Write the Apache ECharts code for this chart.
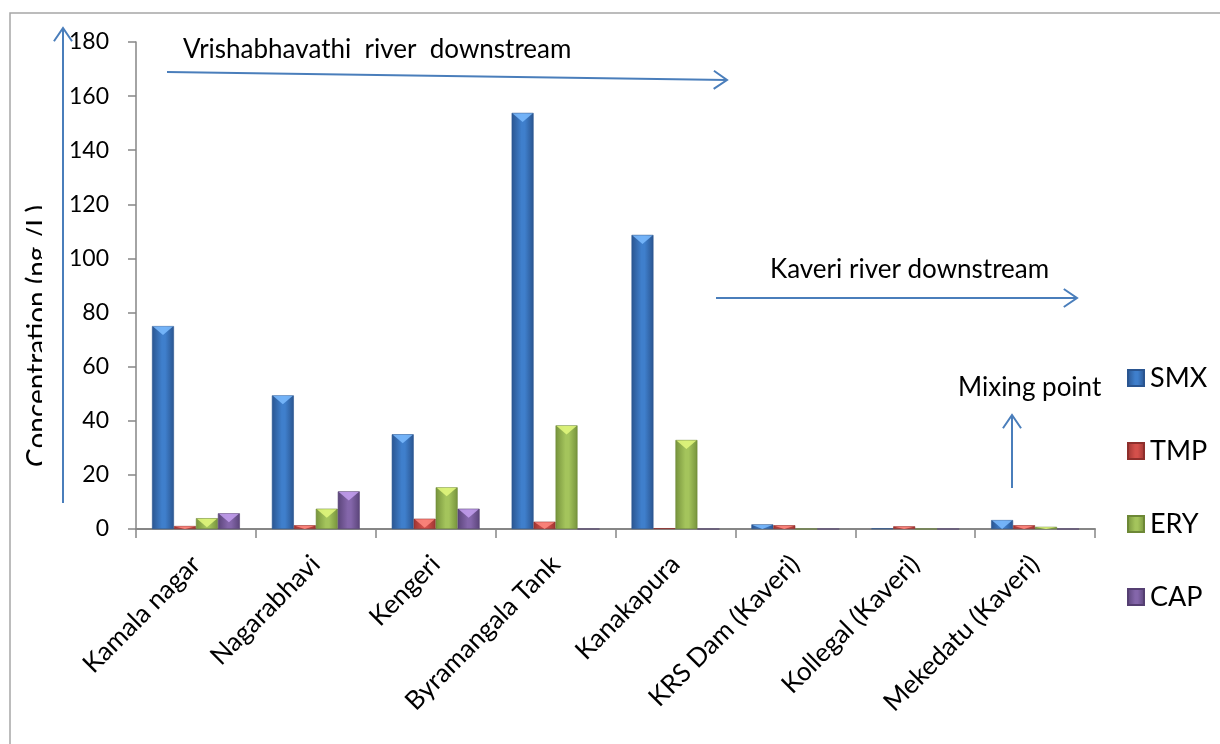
<!DOCTYPE html>
<html>
<head>
<meta charset="utf-8">
<title>Antibiotic concentrations along the Vrishabhavathi and Kaveri rivers</title>
<script src="https://cdn.jsdelivr.net/npm/echarts@6/dist/echarts.min.js"></script>
<style>
  html, body { margin: 0; padding: 0; background: #fff; }
  #chart { width: 1220px; height: 744px; }
</style>
</head>
<body>
<div id="chart"></div>
<script>
// Sampling sites, upstream to downstream
const categories = [
  'Kamala nagar', 'Nagarabhavi', 'Kengeri', 'Byramangala Tank',
  'Kanakapura', 'KRS Dam (Kaveri)', 'Kollegal (Kaveri)', 'Mekedatu (Kaveri)'
];
// Concentrations (ng/L)
const smx = [75, 49.4, 35, 153.8, 108.7, 1.7, 0.2, 3.3];
const tmp = [1.1, 1.4, 3.8, 2.7, 0.3, 1.4, 1.0, 1.4];
const ery = [4.0, 7.5, 15.4, 38.3, 32.9, 0, 0, 0.8];
const cap = [5.8, 13.9, 7.5, 0, 0, 0, 0, 0];

const yTicks = { min: 0, max: 180, interval: 20 };

const FONT = 'Lato, "Open Sans", sans-serif';
const ARROW = '#4a7ebb';
const GAP = 0.267;

const palette = [
  { name: 'SMX', data: smx, edge: '#2a5590', mid: '#3f7fcc', hi: '#7cbcff', border: '#2a5590' },
  { name: 'TMP', data: tmp, edge: '#9c3532', mid: '#d4504b', hi: '#ff8a80', border: '#8e2f2c' },
  { name: 'ERY', data: ery, edge: '#76933c', mid: '#a4c45c', hi: '#e4f97e', border: '#6d8836' },
  { name: 'CAP', data: cap, edge: '#5a4479', mid: '#8466aa', hi: '#c4a0f0', border: '#553f72' }
];

function barGradient(p) {
  return new echarts.graphic.LinearGradient(0, 0, 1, 0, [
    { offset: 0, color: p.edge },
    { offset: 0.45, color: p.mid },
    { offset: 0.6, color: p.mid },
    { offset: 1, color: p.edge }
  ]);
}

const series = [];
palette.forEach(function (p) {
  series.push({
    name: p.name,
    type: 'bar',
    data: p.data,
    barGap: '0%',
    barCategoryGap: (GAP * 100) + '%',
    itemStyle: { color: barGradient(p), borderColor: p.border, borderWidth: 0.6 },
    emphasis: { disabled: true }
  });
});
// Bevelled caps on top of each bar
palette.forEach(function (p, s) {
  series.push({
    name: p.name,
    type: 'custom',
    silent: true,
    z: 5,
    data: p.data.map(function (v, i) { return [i, v]; }),
    renderItem: function (params, api) {
      const idx = api.value(0);
      const val = api.value(1);
      const top = api.coord([idx, val]);
      const base = api.coord([idx, 0]);
      const catW = api.size([1, 0])[0];
      const used = catW * (1 - GAP);
      const bw = used / palette.length;
      const x = top[0] - used / 2 + s * bw;
      const h = Math.min(9, base[1] - top[1]);
      if (h < 2) return null;
      return {
        type: 'polygon',
        shape: { points: [[x + 1, top[1] + 0.5], [x + bw - 1, top[1] + 0.5], [x + bw / 2, top[1] + h]] },
        style: { fill: p.hi, opacity: 0.85 }
      };
    }
  });
});

function arrow(x1, y1, x2, y2, head) {
  const ang = Math.atan2(y2 - y1, x2 - x1);
  const a1 = ang + Math.PI - 0.6, a2 = ang + Math.PI + 0.6;
  return [
    { type: 'line', z: 20, shape: { x1: x1, y1: y1, x2: x2, y2: y2 },
      style: { stroke: ARROW, lineWidth: 2 } },
    { type: 'polyline', z: 20, shape: { points: [
        [x2 + head * Math.cos(a1), y2 + head * Math.sin(a1)],
        [x2, y2],
        [x2 + head * Math.cos(a2), y2 + head * Math.sin(a2)]
      ] }, style: { stroke: ARROW, lineWidth: 2, fill: null } }
  ];
}

const chart = echarts.init(document.getElementById('chart'), null, { renderer: 'canvas' });
chart.setOption({
  animation: false,
  backgroundColor: '#fff',
  grid: { left: 136, right: 125, top: 42, bottom: 215, containLabel: false },
  legend: {
    orient: 'vertical',
    left: 1122,
    top: 359,
    itemWidth: 16,
    itemHeight: 16,
    itemGap: 45,
    icon: 'rect',
    data: palette.map(function (p) { return p.name; }),
    textStyle: { fontFamily: FONT, fontSize: 27, lineHeight: 28, color: '#000', padding: [0, 0, 0, 1] }
  },
  xAxis: {
    type: 'category',
    data: categories,
    axisLine: { lineStyle: { color: '#868686', width: 2 } },
    axisTick: { show: true, length: 9, lineStyle: { color: '#868686', width: 1.5 } },
    axisLabel: { rotate: 45, interval: 0, margin: 31, fontFamily: FONT, fontSize: 26, color: '#000' }
  },
  yAxis: {
    type: 'value',
    min: yTicks.min, max: yTicks.max, interval: yTicks.interval,
    axisLine: { show: true, lineStyle: { color: '#868686', width: 1.5 } },
    axisTick: { show: true, length: 8, lineStyle: { color: '#868686', width: 1.5 } },
    splitLine: { show: false },
    axisLabel: { margin: 27, fontFamily: FONT, fontSize: 23, color: '#000' }
  },
  series: series,
  graphic: [
    { type: 'rect', z: 0, shape: { x: 10, y: 13, width: 1220, height: 740 },
      style: { fill: null, stroke: '#a6a6a6', lineWidth: 1.5 } },
    { type: 'text', z: 10, x: 24, y: 336, rotation: Math.PI / 2,
      style: { text: 'Concentration (ng /L)', fontFamily: FONT, fontSize: 28, fill: '#000',
               align: 'center', verticalAlign: 'top' } },
    { type: 'rect', z: 11, shape: { x: 42, y: 150, width: 14, height: 360 },
      style: { fill: '#fff' } },
    { type: 'text', z: 20, x: 183, y: 50,
      style: { text: 'Vrishabhavathi  river  downstream', fontFamily: FONT, fontSize: 26, fill: '#000',
               align: 'left', verticalAlign: 'middle' } },
    { type: 'text', z: 20, x: 770, y: 270,
      style: { text: 'Kaveri river downstream', fontFamily: FONT, fontSize: 26, fill: '#000',
               align: 'left', verticalAlign: 'middle' } },
    { type: 'text', z: 20, x: 958, y: 388,
      style: { text: 'Mixing point', fontFamily: FONT, fontSize: 26, fill: '#000',
               align: 'left', verticalAlign: 'middle' } }
  ]
    .concat(arrow(63, 503, 63, 28, 16))
    .concat(arrow(167, 72, 727, 80, 16))
    .concat(arrow(716, 298, 1077, 298, 16))
    .concat(arrow(1012, 488, 1012, 415, 16))
});
</script>
</body>
</html>
